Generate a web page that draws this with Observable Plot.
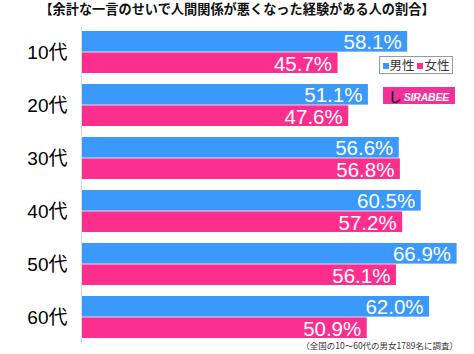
<!DOCTYPE html>
<html>
<head>
<meta charset="utf-8">
<script src="https://cdn.jsdelivr.net/npm/d3@7"></script>
<script src="https://cdn.jsdelivr.net/npm/@observablehq/plot@0.6"></script>
<style>
  html, body { margin: 0; padding: 0; background: #fff; }
  #wrap { position: relative; width: 474px; height: 354px; overflow: hidden; font-family: "Noto Sans CJK JP", "Liberation Sans", sans-serif; }
  #title { height: 22px; line-height: 18px; text-align: center; font-size: 13.2px; font-weight: bold; color: #111; white-space: nowrap; }
  #legend { position: absolute; left: 379px; top: 56px; width: 72px; height: 16px; border: 1px solid #9a9a9a; font-size: 12.5px; line-height: 16px; color: #333; text-align: center; white-space: nowrap; background: #fff; }
  #legend .sq { display: inline-block; width: 6px; height: 6px; vertical-align: middle; margin: 0 1px 2px 0; }
  #logo { position: absolute; left: 383px; top: 87px; width: 72px; height: 17px; background: #f2319b; color: #fff; font-family: "Liberation Sans", sans-serif; font-weight: bold; font-style: italic; font-size: 10.5px; line-height: 19px; white-space: nowrap; overflow: hidden; letter-spacing: -0.2px; }
  #logo .i { display: inline-block; color: #111; font-size: 13px; font-style: normal; margin-left: 6px; margin-right: 2px; }
  #caption { position: absolute; right: 16px; top: 339px; font-size: 8.5px; color: #333; white-space: nowrap; }
</style>
</head>
<body>
<div id="wrap">
  <div id="title">【余計な一言のせいで人間関係が悪くなった経験がある人の割合】</div>
  <div id="chart"></div>
  <div id="legend"><span class="sq" style="background:#3a99fb"></span>男性 <span class="sq" style="background:#fc2f8f"></span>女性</div>
  <div id="logo"><span class="i">し</span>SIRABEE</div>
  <div id="caption">（全国の10～60代の男女1789名に調査）</div>
</div>
<script>
const ages = ["10代", "20代", "30代", "40代", "50代", "60代"];
const genders = ["男性", "女性"];
const male = [58.1, 51.1, 56.6, 60.5, 66.9, 62.0];
const female = [45.7, 47.6, 56.8, 57.2, 56.1, 50.9];
const colors = ["#3a99fb", "#fc2f8f"];

const rows = [];
ages.forEach((a, i) => {
  rows.push({age: a, gender: genders[0], value: male[i]});
  rows.push({age: a, gender: genders[1], value: female[i]});
});
const maleRows = rows.filter(d => d.gender === genders[0]);
const femaleRows = rows.filter(d => d.gender === genders[1]);

const H = 332, mT = 5, mB = 11;
const pIn = 0.2, pOut = 0.056;
const step = (H - mT - mB) / (ages.length - pIn + 2 * pOut);
const bw = step * (1 - pIn);
const half = bw / 2;

const fmt = d => d.value.toFixed(1) + "%";

const chart = Plot.plot({
  width: 474,
  height: H,
  marginLeft: 81,
  marginRight: 0,
  marginTop: mT,
  marginBottom: mB,
  style: {fontFamily: "'Liberation Sans', 'Noto Sans CJK JP', sans-serif", background: "transparent"},
  x: {domain: [0, 70], axis: null},
  y: {domain: ages, paddingInner: pIn, paddingOuter: pOut, label: null},
  color: {domain: genders, range: colors},
  marks: [
    Plot.axisY({tickSize: 0, tickPadding: 14, fontSize: 19, fill: "#000", label: null, fontFamily: "'Liberation Sans', 'Noto Sans CJK JP', sans-serif"}),
    Plot.barX(maleRows, {x: "value", y: "age", fill: "gender", insetBottom: half}),
    Plot.barX(femaleRows, {x: "value", y: "age", fill: "gender", insetTop: half}),
    Plot.ruleX([0], {stroke: "#d8d8d8", strokeWidth: 1}),
    Plot.text(maleRows, {x: "value", y: "age", text: fmt, textAnchor: "end", dx: -6, dy: -half / 2 + 1, fill: "#fff", fontSize: 20.5}),
    Plot.text(femaleRows, {x: "value", y: "age", text: fmt, textAnchor: "end", dx: -6, dy: half / 2 + 1, fill: "#fff", fontSize: 20.5})
  ]
});
document.getElementById("chart").appendChild(chart);
</script>
</body>
</html>
